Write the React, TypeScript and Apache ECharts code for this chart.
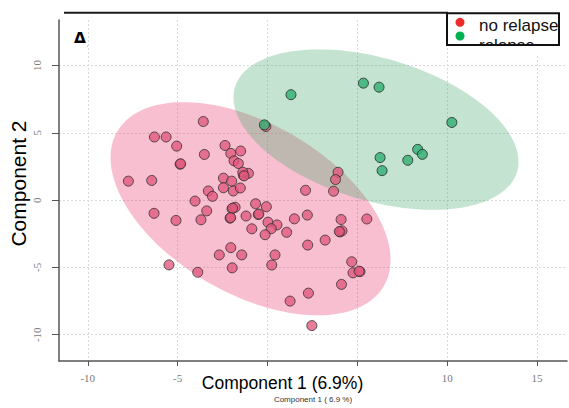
import React, { useEffect, useRef } from "react";
import * as echarts from "echarts";

// PLS-DA scores, component 1 vs component 2
const noRelapseX = [
  -3.57, -6.29, -5.64, -5.05, -3.51, -4.86, -2.36, -2.04, -1.49, -1.86, -1.62, -7.74, -6.44,
  -2.45, -1.99, -1.34, -1.06, -1.37, -2.45, -1.9, -1.51, -3.29, -3.06, -4.03, -0.09, 3.93,
  3.79, 3.68, 2.12, -6.31, -5.09, -3.7, -3.38, -1.97, -1.8, -2.08, -1.19, -0.66, -0.06, -0.51,
  0.03, 0.53, 0.21, -0.13, -0.87, 1.07, 1.5, 2.22, 4.1, 5.53, 4.04, 4.15, 3.21, 2.24, -2.04,
  -2.68, -1.43, 0.42, 0.24, -1.96, -3.88, -5.48, 4.69, 4.76, 5.15, 4.12, 2.28, 1.26, 2.47,
  -4.83, -1.3, -1.94, -2.05, -0.48, 4.0, 5.1,
];
const noRelapseY = [
  5.84, 4.69, 4.69, 4.01, 3.39, 2.67, 4.06, 3.47, 3.65, 2.92, 2.72, 1.41, 1.46, 1.63, 1.41,
  1.85, 1.99, 2.07, 0.92, 0.68, 0.9, 0.68, 0.28, -0.07, 5.47, 2.07, 1.53, 0.66, 0.73, -0.98,
  -1.51, -1.46, -0.8, -0.64, -0.53, -1.34, -1.18, -0.27, -0.49, -1.07, -1.64, -1.84, -2.12,
  -2.57, -2.13, -2.39, -1.39, -1.11, -1.44, -1.4, -2.36, -2.28, -2.97, -3.34, -3.53, -4.07,
  -4.07, -4.07, -4.82, -5.03, -5.36, -4.81, -4.58, -5.4, -5.31, -6.26, -6.91, -7.5, -9.32,
  2.7, 1.8, -0.6, -1.3, -1.03, -2.33, -5.28,
];
const relapseX = [1.31, 5.34, 6.21, 10.26, -0.17, 8.36, 8.62, 7.81, 6.27, 6.38];
const relapseY = [7.83, 8.69, 8.39, 5.77, 5.59, 3.77, 3.4, 2.96, 3.16, 2.19];

// confidence ellipses: centre and shape matrix [sxx, sxy, syy]
const noRelapseCenter = [-0.94, -0.64];
const noRelapseShape = [60.7, -29.6, 62.7];
const relapseCenter = [6.04, 5.24];
const relapseShape = [62.9, -18.9, 35.5];

const xTickValues = [-10, -5, 0, 5, 10, 15];
// 0 and 5 sit under the large axis title
const xLabelValues = [-10, -5, 10, 15];
const yTickValues = [-10, -5, 0, 5, 10];
const xRange = [-11.6, 16.67];
const yRange = [-11.95, 13.38];

const groupNames = ["no relapse", "relapse"];
const xAxisTitle = "Component 1 ( 6.9 %)";
const xOverlayTitle = "Component 1 (6.9%)";
const yOverlayTitle = "Component 2";
const panelLetter = "A";

const SANS = '"Liberation Sans", Arial, Helvetica, sans-serif';
const SERIF = '"Liberation Serif", "Times New Roman", serif';

function ellipseSeries(center: number[], shape: number[], fill: string, z: number) {
  const [sxx, sxy, syy] = shape;
  const l11 = Math.sqrt(sxx);
  const l21 = sxy / l11;
  const l22 = Math.sqrt(syy - l21 * l21);
  return {
    type: "custom",
    z,
    silent: true,
    data: [center],
    renderItem: (_params: any, api: any) => {
      const cx = api.value(0);
      const cy = api.value(1);
      const pts: number[][] = [];
      const n = 160;
      for (let i = 0; i < n; i++) {
        const t = (i / n) * Math.PI * 2;
        const c = Math.cos(t);
        const s = Math.sin(t);
        pts.push(api.coord([cx + l11 * c, cy + l21 * c + l22 * s]));
      }
      return { type: "polygon", shape: { points: pts }, style: { fill } };
    },
  };
}

export default function App() {
  const ref = useRef<HTMLDivElement>(null);

  useEffect(() => {
    if (!ref.current) return;
    const chart = echarts.init(ref.current, null, { renderer: "svg" });

    const axisLabelStyle = {
      color: "#7a7a7a",
      fontFamily: SERIF,
      fontSize: 11,
    };

    chart.setOption({
      animation: false,
      backgroundColor: "#ffffff",
      grid: { left: 59, right: 2, top: 20, bottom: 41, containLabel: false },
      xAxis: {
        type: "value",
        min: xRange[0],
        max: xRange[1],
        name: xAxisTitle,
        nameLocation: "middle",
        nameGap: 34,
        nameTextStyle: { color: "#333", fontSize: 8, fontFamily: SANS },
        axisLine: { show: true, onZero: false, lineStyle: { color: "#555", width: 1.5 } },
        axisTick: { show: true, length: 5, customValues: xTickValues, lineStyle: { color: "#555" } },
        axisLabel: { ...axisLabelStyle, margin: 11, customValues: xLabelValues },
        splitLine: { show: true, lineStyle: { color: "#d9d9d9", type: [2, 2], width: 1 } },
      },
      yAxis: {
        type: "value",
        min: yRange[0],
        max: yRange[1],
        axisLine: { show: true, onZero: false, lineStyle: { color: "#555", width: 1.5 } },
        axisTick: { show: true, length: 7, customValues: yTickValues, lineStyle: { color: "#555" } },
        axisLabel: { ...axisLabelStyle, rotate: 90, margin: 17, customValues: yTickValues },
        splitLine: { show: true, lineStyle: { color: "#d9d9d9", type: [2, 2], width: 1 } },
      },
      series: [
        ellipseSeries(noRelapseCenter, noRelapseShape, "rgba(234, 62, 112, 0.33)", 1),
        ellipseSeries(relapseCenter, relapseShape, "rgba(70, 172, 112, 0.32)", 2),
        {
          type: "scatter",
          name: groupNames[0],
          z: 3,
          symbol: "circle",
          symbolSize: 10,
          data: noRelapseX.map((x, i) => [x, noRelapseY[i]]),
          itemStyle: { color: "#e0587c", opacity: 0.78, borderColor: "#2b2b2b", borderWidth: 1 },
        },
        {
          type: "scatter",
          name: groupNames[1],
          z: 4,
          symbol: "circle",
          symbolSize: 10,
          data: relapseX.map((x, i) => [x, relapseY[i]]),
          itemStyle: { color: "#38b277", opacity: 0.85, borderColor: "#2b2b2b", borderWidth: 1 },
        },
      ],
      graphic: [
        // rule across the top of the panel
        {
          type: "line",
          z: 100,
          shape: { x1: 64, y1: 12.7, x2: 448, y2: 12.7 },
          style: { stroke: "#1a1a1a", lineWidth: 2 },
        },
        // panel letter, lower part hidden by the white strip
        {
          type: "text",
          z: 100,
          x: 80,
          y: 28.3,
          style: {
            text: panelLetter,
            font: `bold 22px ${SANS}`,
            fill: "#000",
            align: "center",
            verticalAlign: "top",
          },
        },
        {
          type: "rect",
          z: 101,
          shape: { x: 67, y: 43, width: 20, height: 10 },
          style: { fill: "#ffffff" },
        },
        // legend box
        {
          type: "rect",
          z: 100,
          shape: { x: 447, y: 13.3, width: 112, height: 31.7 },
          style: { fill: "#ffffff" },
        },
        {
          type: "circle",
          z: 102,
          shape: { cx: 460, cy: 22.3, r: 4.5 },
          style: { fill: "#ee2b2b" },
        },
        {
          type: "circle",
          z: 102,
          shape: { cx: 460, cy: 36, r: 4.5 },
          style: { fill: "#00b050" },
        },
        {
          type: "text",
          z: 102,
          x: 479,
          y: 25,
          style: {
            text: groupNames[0],
            font: `17px ${SANS}`,
            fill: "#111",
            align: "left",
            verticalAlign: "middle",
          },
        },
        {
          type: "text",
          z: 102,
          x: 479,
          y: 45,
          style: {
            text: groupNames[1],
            font: `17px ${SANS}`,
            fill: "#111",
            align: "left",
            verticalAlign: "middle",
          },
        },
        {
          type: "rect",
          z: 103,
          shape: { x: 470, y: 45.5, width: 92, height: 10 },
          style: { fill: "#ffffff" },
        },
        {
          type: "rect",
          z: 104,
          shape: { x: 447, y: 13.3, width: 112, height: 31.7 },
          style: { fill: "none", stroke: "#111", lineWidth: 2 },
        },
        // axis titles laid over the panel
        {
          type: "text",
          z: 100,
          x: 282.5,
          y: 383,
          style: {
            text: xOverlayTitle,
            font: `17.5px ${SANS}`,
            fill: "#000",
            align: "center",
            verticalAlign: "middle",
          },
        },
        {
          type: "text",
          z: 100,
          x: 18.5,
          y: 183.5,
          rotation: Math.PI / 2,
          style: {
            text: yOverlayTitle,
            font: `21px ${SANS}`,
            fill: "#000",
            align: "center",
            verticalAlign: "middle",
          },
        },
      ],
    });

    return () => chart.dispose();
  }, []);

  return (
    <div
      ref={ref}
      style={{ position: "absolute", left: 0, top: 0, width: 569, height: 408 }}
    />
  );
}
